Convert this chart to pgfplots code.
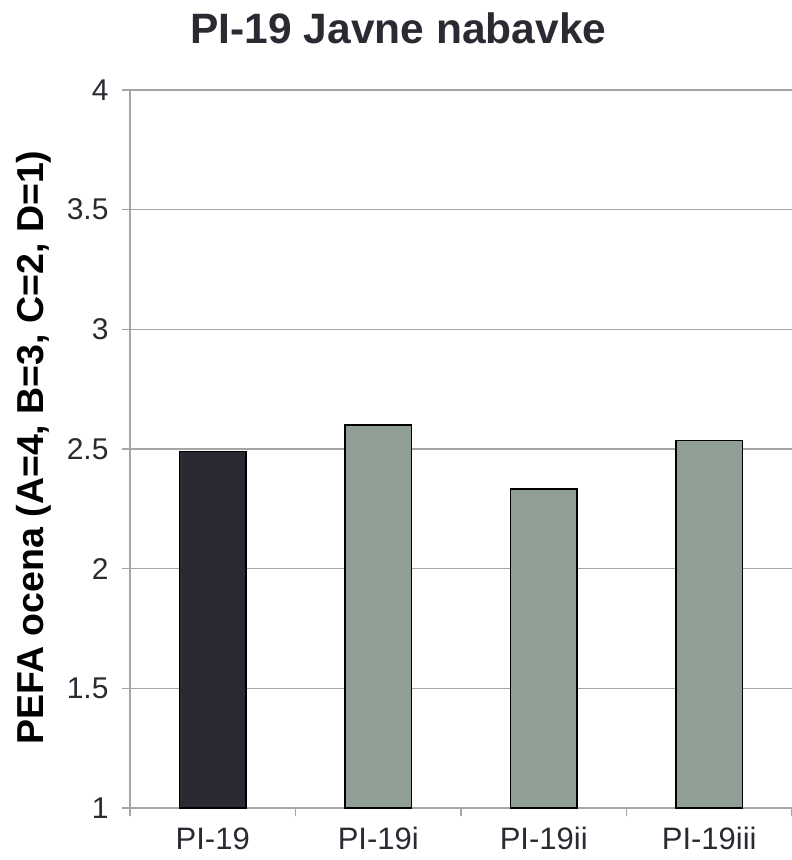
\documentclass[border=0pt]{standalone}
\usepackage{fontspec}
\setmainfont{Liberation Sans}
\usepackage{pgfplots}
\pgfplotsset{compat=1.18}
\definecolor{darkbar}{HTML}{2A2A33}
\definecolor{graybar}{HTML}{909F96}
\definecolor{gridc}{HTML}{A6A6A6}
\definecolor{txt}{HTML}{2A2A33}
\begin{document}
\begin{tikzpicture}
\useasboundingbox (-130pt,-52pt) rectangle (662pt,808pt);
\begin{axis}[
  at={(0pt,0pt)}, anchor=south west,
  scale only axis, width=662pt, height=718pt,
  xmin=-0.5, xmax=3.5, ymin=1, ymax=4,
  ytick={1,1.5,2,2.5,3,3.5,4},
  yticklabels={1,1.5,2,2.5,3,3.5,4},
  xtick={0,1,2,3},
  xticklabels={PI-19,PI-19i,PI-19ii,PI-19iii},
  minor xtick={-0.5,0.5,1.5,2.5,3.5},
  axis x line*=bottom, axis y line*=left,
  axis line style={draw=gridc, line width=1.5pt, -},
  ymajorgrids, grid style={draw=gridc, line width=1.5pt},
  tick align=outside, major tick length=8pt, minor tick length=8pt,
  tick style={draw=gridc, line width=1.5pt},
  major x tick style={draw=none},
  ybar, bar width=0.4, bar shift=0pt,
  tick label style={font=\fontsize{30}{36}\selectfont, text=txt},
  xticklabel style={font=\fontsize{31}{37}\selectfont, yshift=-8pt},
  yticklabel style={xshift=-10pt},
  title={PI-19 Javne nabavke},
  title style={font=\fontsize{42.5}{50}\selectfont\bfseries, text=txt, at={(axis description cs:0.4056,1.056)}, anchor=base},
  ylabel={PEFA ocena (A=4, B=3, C=2, D=1)},
  ylabel style={font=\fontsize{37.5}{44}\selectfont\bfseries, text=black, at={(axis description cs:-0.131,0.502)}, anchor=base},
]
\addplot[fill=darkbar, draw=black, line width=1.5pt] coordinates {(0,2.49)};
\addplot[fill=graybar, draw=black, line width=1.5pt] coordinates {(1,2.60) (2,2.333) (3,2.535)};
\end{axis}
\end{tikzpicture}
\end{document}
